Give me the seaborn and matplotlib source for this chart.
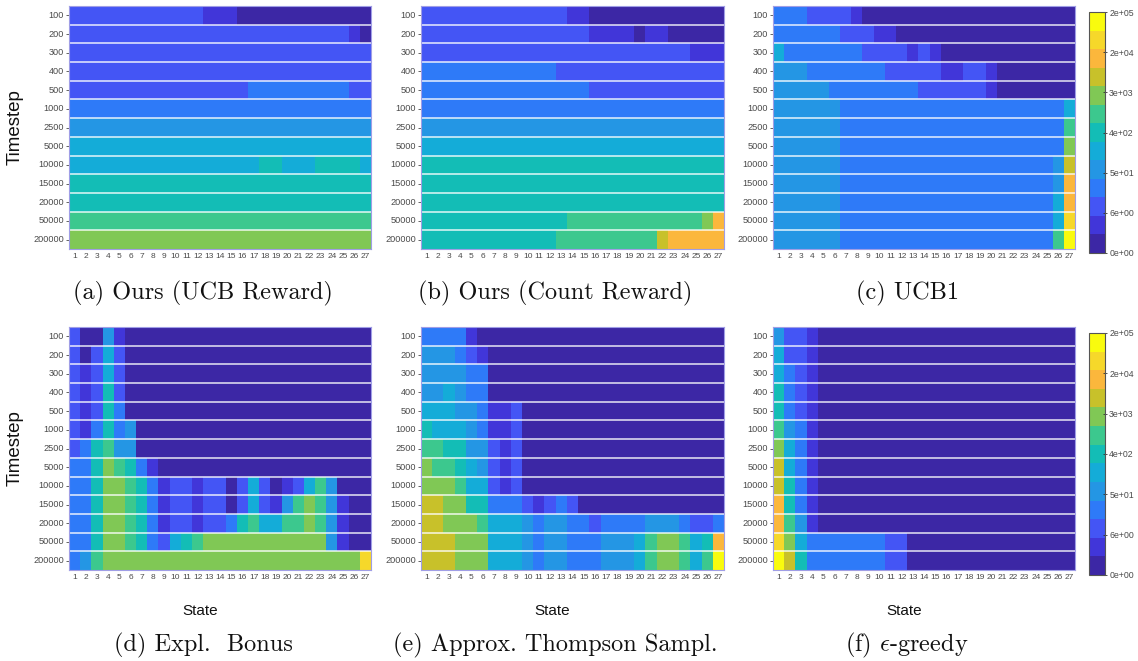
import numpy as np
import pandas as pd
import matplotlib
matplotlib.use("Agg")
import matplotlib.pyplot as plt
from matplotlib.colors import ListedColormap
import seaborn as sns

# ---------------- data ----------------
timesteps = [100, 200, 300, 400, 500, 1000, 2500, 5000, 10000, 15000, 20000, 50000, 200000]
states = list(range(1, 28))

# colour level per cell (0..12 -> '0'..'9','A','B','C'), one string per timestep, 27 states
ours_ucb = [
    "222222222222111000000000000",
    "222222222222222222222222210",
    "222222222222222222222222222",
    "222222222222222222222222222",
    "222222222222222233333333322",
    "333333333333333333333333333",
    "444444444444444444444444444",
    "555555555555555555555555555",
    "555555555555555556655566665",
    "666666666666666666666666666",
    "666666666666666666666666666",
    "777777777777777777777777777",
    "888888888888888888888888888",
]
ours_count = [
    "222222222222211000000000000",
    "222222222222222111101100000",
    "222222222222222222222222111",
    "333333333333222222222222222",
    "333333333333333222222222222",
    "333333333333333333333333333",
    "444444444444444444444444444",
    "555555555555555555555555555",
    "666666666666666666666666666",
    "666666666666666666666666666",
    "666666666666666666666666666",
    "66666666666667777777777778A",
    "6666666666667777777779AAAAA",
]
ucb1 = [
    "333222210000000000000000000",
    "333333222110000000000000000",
    "533333332222121000000000000",
    "444333333322222112210000000",
    "444443333333322222210000000",
    "444444333333333333333333335",
    "444444333333333333333333337",
    "444444333333333333333333338",
    "444444333333333333333333349",
    "44444433333333333333333334A",
    "44444433333333333333333335A",
    "44444433333333333333333335B",
    "44444433333333333333333337C",
]
expl_bonus = [
    "200410000000000000000000000",
    "202520000000000000000000000",
    "212520000000000000000000000",
    "212620000000000000000000000",
    "212630000000000000000000000",
    "213634000000000000000000000",
    "236744000000000000000000000",
    "336876310000000000000000000",
    "336887631221220252012574000",
    "336887631221220252147874100",
    "336887631221223675577874100",
    "336887632567888888888884100",
    "34788888888888888888888888B",
]
approx_ts = [
    "333310000000000000000000000",
    "444321000000000000000000000",
    "444433000000000000000000000",
    "445433000000000000000000000",
    "555443112000000000000000000",
    "655543112000000000000000000",
    "776644212000000000000000000",
    "877654212000000000000000000",
    "888755212000000000000000000",
    "998866333212320000000000000",
    "998887555434433233334443223",
    "99988855543443334445788756A",
    "99988855543443334445788757C",
]
eps_greedy = [
    "422100000000000000000000000",
    "522100000000000000000000000",
    "532100000000000000000000000",
    "632100000000000000000000000",
    "632100000000000000000000000",
    "743100000000000000000000000",
    "853100000000000000000000000",
    "953100000000000000000000000",
    "963100000000000000000000000",
    "A63100000000000000000000000",
    "A74100000000000000000000000",
    "B85333333322000000000000000",
    "C96333333322000000000000000",
]

panels = [ours_ucb, ours_count, ucb1, expl_bonus, approx_ts, eps_greedy]
captions = ["(a) Ours (UCB Reward)", "(b) Ours (Count Reward)", "(c) UCB1",
            "(d) Expl.  Bonus", "(e) Approx. Thompson Sampl.", r"(f) $\epsilon$-greedy"]

level_colors = ["#3c27a5", "#4136d9", "#4455f5", "#2e7af8", "#2496e4", "#14acd8",
                "#13bdb6", "#3cc88e", "#80c855", "#c8c12a", "#fbb73c", "#f6d82a", "#f9fb0e"]
cbar_labels = ["0e+00", "6e+00", "5e+01", "4e+02", "3e+03", "2e+04", "2e+05"]

# ---------------- figure ----------------
plt.rcParams["font.family"] = ["Liberation Sans", "DejaVu Sans"]
plt.rcParams["mathtext.fontset"] = "cm"

W, H = 1138, 661
fig = plt.figure(figsize=(W / 100, H / 100), dpi=100)


def rect(x0, y0, x1, y1):
    return [x0 / W, 1 - y1 / H, (x1 - x0) / W, (y1 - y0) / H]


col_x = [(69, 371), (421, 724), (773, 1075)]
row_y = [(6, 249), (327, 570)]
cmap = ListedColormap(level_colors)
tick_color = "#4a4a4a"


def to_frame(rows):
    arr = np.array([[int(ch, 16) for ch in r] for r in rows], dtype=float)
    return pd.DataFrame(arr, index=timesteps, columns=states)


for i, rows in enumerate(panels):
    r, c = divmod(i, 3)
    x0, x1 = col_x[c]
    y0, y1 = row_y[r]
    ax = fig.add_axes(rect(x0, y0, x1, y1))
    sns.heatmap(to_frame(rows), ax=ax, cmap=cmap, vmin=-0.5, vmax=12.5, cbar=False,
                xticklabels=states, yticklabels=timesteps)
    for k in range(1, len(timesteps)):
        ax.axhline(k, color="white", lw=1.3, alpha=0.75)
    for sp in ax.spines.values():
        sp.set_visible(True)
        sp.set_color("#a09ee6")
        sp.set_linewidth(0.8)
    ax.tick_params(axis="y", labelsize=6.6, labelcolor=tick_color, color=tick_color,
                   length=2, width=0.6, pad=1.5, rotation=0)
    ax.tick_params(axis="x", labelsize=6, labelcolor=tick_color, length=0, pad=3,
                   rotation=0)
    ax.set_xlabel("")
    ax.set_ylabel("")
    cx = (x0 + x1) / 2
    if r == 1:
        fig.text((cx - 20) / W, 1 - 611 / H, "State", ha="center", va="center",
                 fontsize=11, color="#111111")
    cap_y = 293 if r == 0 else 645
    fig.text((cx - 17) / W, 1 - cap_y / H, captions[i], ha="center", va="center",
             fontsize=17.5, family="cmr10", color="#111111")
    if c == 0:
        fig.text(15.5 / W, 1 - ((y0 + y1) / 2) / H, "Timestep", rotation=90,
                 ha="center", va="center", fontsize=13.5, color="#111111")
    if c == 2:
        cy0, cy1 = (12, 253) if r == 0 else (333, 575)
        cax = fig.add_axes(rect(1089, cy0, 1105, cy1))
        cb = fig.colorbar(ax.collections[0], cax=cax)
        cb.set_ticks([-0.5 + k * 13 / 6 for k in range(7)])
        cb.set_ticklabels(cbar_labels)
        cb.ax.tick_params(labelsize=6.3, labelcolor=tick_color, color="#333333",
                          length=3, width=0.6, direction="inout", pad=1.5)
        cb.outline.set_edgecolor("#555555")
        cb.outline.set_linewidth(0.8)

fig.savefig("out.png", dpi=100)
